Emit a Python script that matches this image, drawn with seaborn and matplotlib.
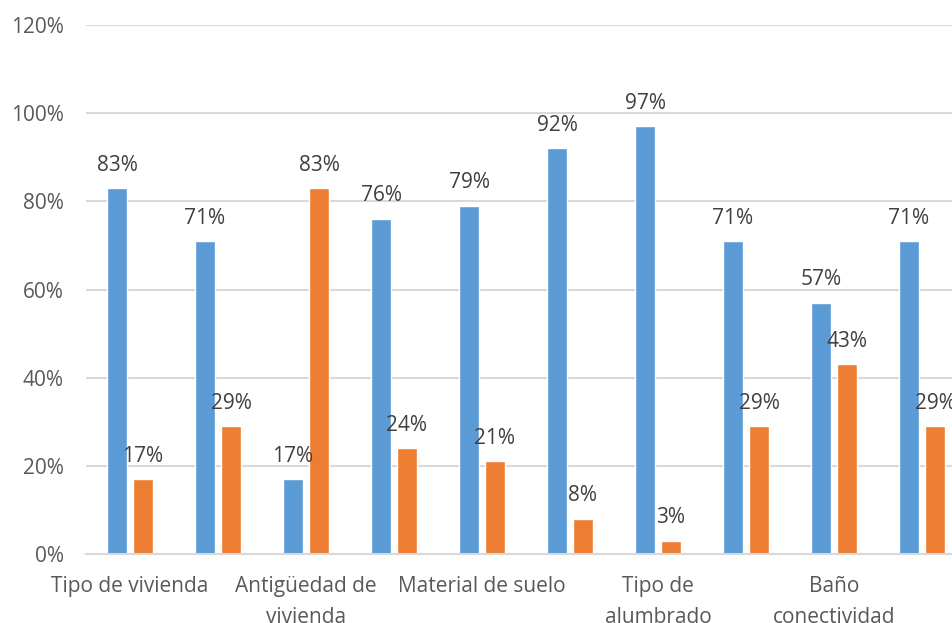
import matplotlib
matplotlib.use("Agg")
import matplotlib.pyplot as plt
from matplotlib.ticker import FuncFormatter, MultipleLocator
import seaborn as sns
import pandas as pd

# Category labels on the x axis (every other group is labelled)
etiquetas = ["Tipo de vivienda", "", "Antigüedad de\nvivienda", "",
             "Material de suelo", "", "Tipo de\nalumbrado", "",
             "Baño\nconectividad", ""]

# Percentages for the two series in each group
serie_azul = [83, 71, 17, 76, 79, 92, 97, 71, 57, 71]
serie_naranja = [17, 29, 83, 24, 21, 8, 3, 29, 43, 29]

series = ["Serie 1", "Serie 2"]
colores = ["#5B9BD5", "#ED7D31"]

df = pd.DataFrame({
    "grupo": list(range(len(serie_azul))) * 2,
    "serie": [series[0]] * len(serie_azul) + [series[1]] * len(serie_naranja),
    "valor": serie_azul + serie_naranja,
})

sns.set_style("white")
plt.rcParams["font.family"] = ["Open Sans", "DejaVu Sans"]

W, H = 953, 623
fig = plt.figure(figsize=(W / 100, H / 100), dpi=100)
ax = fig.add_axes([86 / W, (H - 554) / H, 880 / W, 529 / H])

sns.barplot(data=df, x="grupo", y="valor", hue="serie", hue_order=series,
            palette=colores, saturation=1, width=0.59, gap=0.23,
            edgecolor="white", linewidth=1, legend=False, ax=ax, errorbar=None)

for cont in ax.containers:
    ax.bar_label(cont, fmt="{:.0f}%", padding=9, color="#404040", fontsize=15)

ax.set_xlim(-0.5, 9.5)
ax.set_ylim(0, 120)
ax.yaxis.set_major_locator(MultipleLocator(20))
ax.yaxis.set_major_formatter(FuncFormatter(lambda v, p: f"{v:.0f}%"))
ax.grid(axis="y", color="#D9D9D9", linewidth=1.5)
ax.set_axisbelow(True)

ax.set_xticks(range(len(etiquetas)))
ax.set_xticklabels(etiquetas, linespacing=1.6)
ax.tick_params(axis="x", length=0, pad=16, labelsize=15, labelcolor="#595959")
ax.tick_params(axis="y", length=0, pad=16, labelsize=15, labelcolor="#595959")
ax.set_xlabel("")
ax.set_ylabel("")

for s in ["top", "right", "left"]:
    ax.spines[s].set_visible(False)
ax.spines["bottom"].set_color("#D9D9D9")
ax.spines["bottom"].set_linewidth(1.5)

fig.savefig("out.png", dpi=100)
